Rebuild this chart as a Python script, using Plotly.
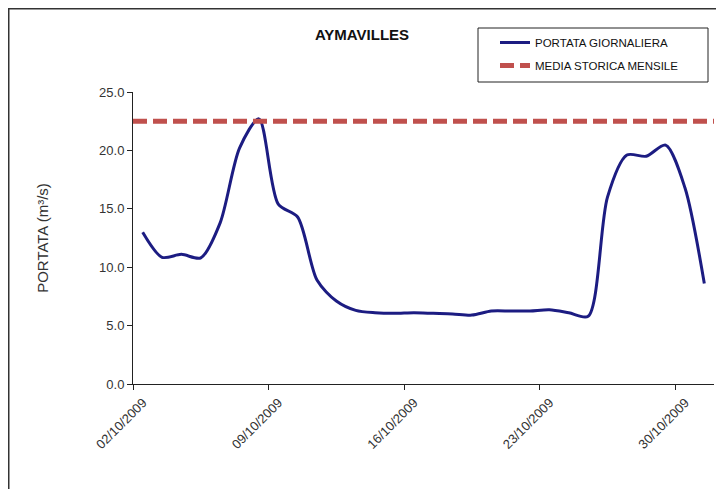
import plotly.graph_objects as go
import pandas as pd

# ---- data ----
dates = pd.date_range("2009-10-02", "2009-10-31", freq="D")
portata = [13.0, 10.85, 11.1, 10.8, 13.8, 20.2, 22.7, 15.4, 14.3, 8.9,
           7.1, 6.3, 6.1, 6.05, 6.1, 6.05, 6.0, 5.9, 6.25, 6.25,
           6.25, 6.35, 6.1, 5.8, 16.0, 19.6, 19.5, 20.45, 16.8, 8.6]
media_storica = 22.5
tick_dates = ["2009-10-02", "2009-10-09", "2009-10-16", "2009-10-23", "2009-10-30"]
x_range = ["2009-10-02", "2009-11-01"]

# points sit in the middle of each day slot
x_pts = [d + pd.Timedelta(hours=12) for d in dates]

FONT = "Liberation Sans, Arial, sans-serif"

fig = go.Figure()
fig.add_trace(go.Scatter(
    x=x_pts, y=portata, mode="lines", name="PORTATA GIORNALIERA",
    legendgroup="a",
    line=dict(color="#1C1C82", width=3, shape="spline", smoothing=0.8),
))
fig.add_trace(go.Scatter(
    x=x_range, y=[media_storica, media_storica], mode="lines",
    name="MEDIA STORICA MENSILE", legendgroup="b",
    line=dict(color="#C0504D", width=5, dash="14px,6px"),
))

# page is rendered with an 8px body margin -> work in figure coords
W, H = 716, 481
L, R, T, B = 125, 10, 84, 105
pw = W - L - R
ph = H - T - B

def px_x(x):
    return (x - L) / pw

def px_y(y):
    return (H - B - y) / ph

fig.update_layout(
    width=W, height=H,
    margin=dict(l=L, r=R, t=T, b=B),
    paper_bgcolor="white", plot_bgcolor="white",
    font=dict(family=FONT, color="#222222"),
    title=dict(text="<b>AYMAVILLES</b>", x=354 / W, xanchor="center",
               y=1 - 27 / H, yanchor="middle",
               font=dict(size=15, family=FONT, color="#111111")),
    showlegend=True,
    legend=dict(
        x=px_x(487), y=px_y(20), xanchor="left", yanchor="top",
        borderwidth=0, bgcolor="rgba(0,0,0,0)",
        font=dict(size=11.5, family=FONT, color="#111111"),
        itemwidth=30, tracegroupgap=4,
    ),
    xaxis=dict(
        type="date", range=x_range,
        tickvals=tick_dates, tickformat="%d/%m/%Y", tickangle=-45,
        ticklabelshift=10,
        showline=True, linecolor="#222222", linewidth=1,
        ticks="outside", ticklen=5, tickcolor="#222222",
        showgrid=False, zeroline=False,
        tickfont=dict(size=13, color="#333333"),
    ),
    yaxis=dict(
        range=[0, 25], tickvals=[0, 5, 10, 15, 20, 25], tickformat=".1f",
        showline=True, linecolor="#222222", linewidth=1,
        ticks="outside", ticklen=5, tickcolor="#222222",
        showgrid=False, zeroline=False,
        tickfont=dict(size=13, color="#333333"),
        title=dict(text="PORTATA (m³/s)", standoff=46,
                   font=dict(size=15, color="#333333")),
    ),
    shapes=[
        # legend frame
        dict(type="rect", xref="paper", yref="paper",
             x0=px_x(470), x1=px_x(700), y0=px_y(74), y1=px_y(20),
             line=dict(color="#222222", width=1), fillcolor="rgba(0,0,0,0)"),
        # chart-area frame: left and top edges
        dict(type="line", xref="paper", yref="paper",
             x0=px_x(0.5), x1=px_x(0.5), y0=px_y(H), y1=px_y(0),
             line=dict(color="#333333", width=2)),
        dict(type="line", xref="paper", yref="paper",
             x0=px_x(0), x1=px_x(W), y0=px_y(0.5), y1=px_y(0.5),
             line=dict(color="#333333", width=2)),
    ],
)

fig.write_html("out.html")
